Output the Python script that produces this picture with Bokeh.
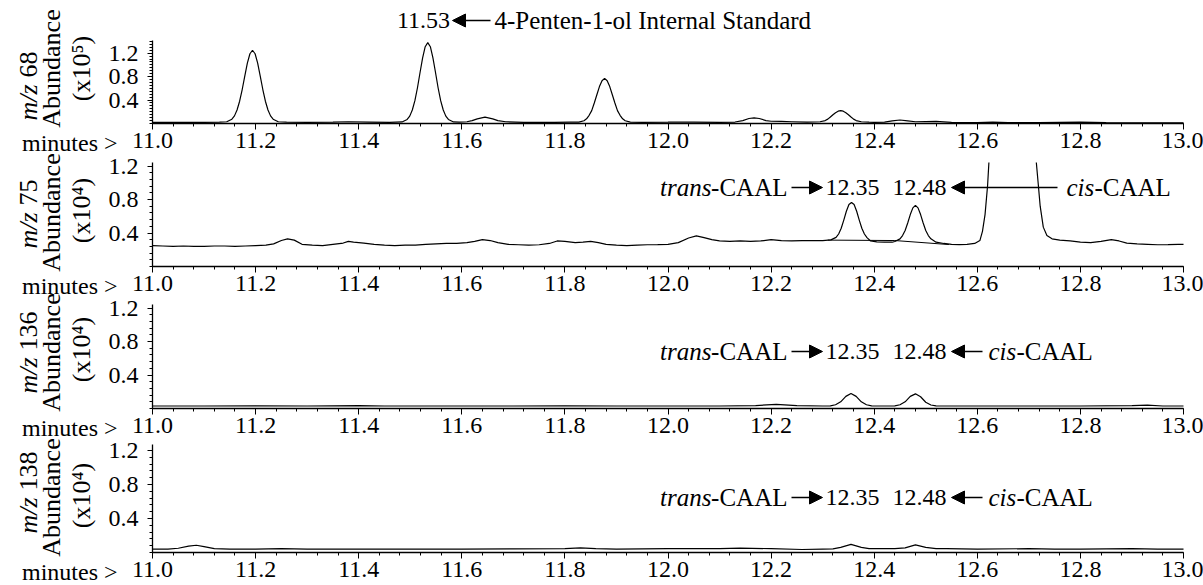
import math
from bokeh.plotting import figure
from bokeh.models import (Range1d, FixedTicker, NumeralTickFormatter, Label, Arrow, NormalHead,
                          LinearAxis)
from bokeh.embed import file_html
from bokeh.resources import INLINE

# ---------------- data ----------------
x_ticks = [11.0, 11.2, 11.4, 11.6, 11.8, 12.0, 12.2, 12.4, 12.6, 12.8, 13.0]
y_ticks = [0.4, 0.8, 1.2]
NAN = float("nan")

# m/z 68, abundance x10^5
mz68_time = [11.00, 11.05, 11.10, 11.13, 11.144, 11.154, 11.159, 11.164, 11.169, 11.174, 11.179, 11.184,
             11.189, 11.194, 11.199, 11.204, 11.209, 11.214, 11.219, 11.224, 11.229, 11.234, 11.244,
             11.26, 11.30, 11.35, 11.38, 11.42, 11.46, 11.484, 11.494, 11.499, 11.504, 11.509, 11.514,
             11.519, 11.524, 11.529, 11.534, 11.539, 11.544, 11.549, 11.554, 11.559, 11.564, 11.569,
             11.574, 11.584, 11.595, 11.61, 11.62, 11.63, 11.645, 11.66, 11.67, 11.685, 11.72, 11.78,
             11.81, 11.827, 11.837, 11.842, 11.847, 11.852, 11.857, 11.862, 11.867, 11.872, 11.877,
             11.882, 11.887, 11.892, 11.897, 11.902, 11.907, 11.912, 11.917, 11.927, 11.95, 12.00,
             12.05, 12.10, 12.13, 12.145, 12.157, 12.167, 12.177, 12.19, 12.20, 12.22, 12.24, 12.27,
             12.295, 12.305, 12.31, 12.315, 12.32, 12.325, 12.33, 12.335, 12.34, 12.345, 12.35, 12.355,
             12.36, 12.365, 12.375, 12.39, 12.40, 12.42, 12.435, 12.45, 12.465, 12.48, 12.52, 12.55,
             12.60, 12.63, 12.66, 12.72, 12.80, 12.85, 12.90, 13.00]
mz68_abund = [0.020, 0.020, 0.020, 0.022, 0.030, 0.074, 0.13, 0.23, 0.38, 0.58, 0.81, 1.03,
              1.19, 1.25, 1.19, 1.03, 0.81, 0.58, 0.38, 0.23, 0.13, 0.074, 0.030,
              0.022, 0.020, 0.025, 0.030, 0.025, 0.020, 0.027, 0.069, 0.126, 0.23, 0.39, 0.61,
              0.87, 1.12, 1.31, 1.38, 1.31, 1.12, 0.87, 0.61, 0.39, 0.23, 0.126,
              0.069, 0.027, 0.025, 0.030, 0.050, 0.080, 0.110, 0.080, 0.050, 0.030, 0.020, 0.020,
              0.022, 0.024, 0.047, 0.080, 0.14, 0.22, 0.35, 0.49, 0.63, 0.73, 0.77,
              0.73, 0.63, 0.49, 0.35, 0.22, 0.14, 0.080, 0.047, 0.024, 0.020, 0.022,
              0.025, 0.020, 0.025, 0.050, 0.085, 0.095, 0.085, 0.050, 0.038, 0.035, 0.030, 0.022,
              0.030, 0.050, 0.075, 0.11, 0.15, 0.185, 0.21, 0.22, 0.21, 0.185, 0.15, 0.11,
              0.075, 0.050, 0.030, 0.022, 0.020, 0.025, 0.045, 0.060, 0.045, 0.030, 0.035, 0.020,
              0.015, 0.025, 0.015, 0.015, 0.022, 0.015, 0.012, 0.012]

# m/z 75, abundance x10^4 (the cis-CAAL peak leaves the top of the panel: gap = off scale)
mz75_time = [11.00, 11.02, 11.04, 11.06, 11.08, 11.10, 11.12, 11.14, 11.16, 11.18, 11.20, 11.22, 11.235,
             11.25, 11.262, 11.275, 11.29, 11.31, 11.33, 11.35, 11.37, 11.38, 11.39, 11.41, 11.43, 11.45,
             11.47, 11.49, 11.51, 11.53, 11.55, 11.57, 11.59, 11.61, 11.625, 11.64, 11.655, 11.67, 11.69,
             11.71, 11.73, 11.75, 11.77, 11.785, 11.80, 11.82, 11.835, 11.85, 11.865, 11.88, 11.90, 11.92,
             11.94, 11.96, 11.98, 12.00, 12.02, 12.04, 12.055, 12.07, 12.085, 12.10, 12.12, 12.14, 12.16,
             12.18, 12.20, 12.22, 12.24, 12.26, 12.28, 12.30, 12.316, 12.326, 12.331, 12.336, 12.341,
             12.346, 12.351, 12.356, 12.361, 12.366, 12.371, 12.376, 12.381, 12.386, 12.393, 12.405,
             12.42, 12.435, 12.44, 12.45, 12.455, 12.46, 12.465, 12.47, 12.475, 12.48, 12.485, 12.49,
             12.495, 12.50, 12.505, 12.51, 12.52, 12.535, 12.55, 12.565, 12.58, 12.595, 12.605, 12.61,
             12.615, 12.62, 12.6225, 12.67, 12.7145, 12.718, 12.722, 12.728, 12.735, 12.745, 12.76, 12.78,
             12.80, 12.82, 12.84, 12.86, 12.875, 12.89, 12.91, 12.93, 12.95, 12.97, 12.99, 13.00]
mz75_abund = [0.250, 0.245, 0.240, 0.245, 0.240, 0.240, 0.245, 0.245, 0.240, 0.245, 0.250, 0.255, 0.270,
              0.310, 0.330, 0.315, 0.265, 0.255, 0.250, 0.265, 0.280, 0.300, 0.290, 0.280, 0.265, 0.255,
              0.250, 0.255, 0.255, 0.265, 0.270, 0.275, 0.275, 0.285, 0.300, 0.320, 0.310, 0.285, 0.265,
              0.260, 0.255, 0.260, 0.275, 0.305, 0.300, 0.285, 0.290, 0.300, 0.285, 0.265, 0.255, 0.250,
              0.255, 0.260, 0.262, 0.265, 0.285, 0.340, 0.365, 0.345, 0.320, 0.305, 0.300, 0.305, 0.300,
              0.305, 0.320, 0.310, 0.305, 0.310, 0.310, 0.310, 0.318, 0.348, 0.388, 0.457, 0.554,
              0.660, 0.740, 0.765, 0.740, 0.660, 0.554, 0.457, 0.388, 0.345, 0.305, 0.295,
              0.290, 0.290, 0.298, 0.330, 0.370, 0.430, 0.520, 0.620, 0.700, 0.730, 0.700, 0.620,
              0.520, 0.430, 0.370, 0.330, 0.290, 0.275, 0.265, 0.262, 0.265, 0.275, 0.310, 0.420,
              0.620, 0.970, 1.242, NAN, 1.242, 1.000, 0.720, 0.470, 0.370, 0.330, 0.315, 0.305,
              0.290, 0.285, 0.300, 0.320, 0.305, 0.280, 0.270, 0.265, 0.260, 0.262, 0.265, 0.265]
mz75_base_time = [12.31, 12.44, 12.545]
mz75_base_abund = [0.315, 0.310, 0.262]

# m/z 136, abundance x10^4
mz136_time = [11.00, 11.10, 11.20, 11.30, 11.40, 11.45, 11.60, 11.70, 11.80, 11.90, 12.00, 12.10, 12.17,
              12.21, 12.25, 12.30, 12.315, 12.325, 12.335, 12.345, 12.355, 12.365, 12.375, 12.385, 12.395,
              12.42, 12.44, 12.45, 12.46, 12.47, 12.48, 12.49, 12.50, 12.51, 12.52, 12.54, 12.60, 12.70,
              12.80, 12.90, 12.93, 12.96, 13.00]
mz136_abund = [0.030, 0.030, 0.032, 0.030, 0.035, 0.030, 0.030, 0.030, 0.032, 0.030, 0.030, 0.030, 0.035,
               0.050, 0.035, 0.030, 0.032, 0.045, 0.080, 0.145, 0.180, 0.145, 0.080, 0.045, 0.032,
               0.030, 0.032, 0.045, 0.080, 0.145, 0.175, 0.140, 0.075, 0.042, 0.032, 0.030, 0.030, 0.030,
               0.030, 0.035, 0.040, 0.030, 0.030]

# m/z 138, abundance x10^4
mz138_time = [11.00, 11.03, 11.05, 11.07, 11.085, 11.10, 11.12, 11.15, 11.20, 11.25, 11.30, 11.40, 11.50,
              11.60, 11.70, 11.80, 11.83, 11.86, 11.90, 12.00, 12.10, 12.14, 12.20, 12.26, 12.30, 12.32,
              12.335, 12.355, 12.375, 12.39, 12.41, 12.44, 12.46, 12.48, 12.50, 12.52, 12.54, 12.60, 12.70,
              12.75, 12.80, 12.90, 12.95, 13.00]
mz138_abund = [0.040, 0.040, 0.050, 0.075, 0.085, 0.070, 0.045, 0.040, 0.040, 0.045, 0.040, 0.040, 0.040,
               0.040, 0.042, 0.045, 0.055, 0.045, 0.040, 0.045, 0.045, 0.052, 0.045, 0.035, 0.040, 0.042,
               0.060, 0.095, 0.060, 0.045, 0.045, 0.045, 0.055, 0.090, 0.060, 0.045, 0.045, 0.040, 0.045,
               0.040, 0.040, 0.045, 0.040, 0.040]

ion_labels = ["68", "75", "136", "138"]
exponents = ["\u2075", "\u2074", "\u2074", "\u2074"]

# ---------------- layout (page pixels) ----------------
FONT = "Liberation Serif"
FS_TICK = "24px"
FS_NUM = "24px"
FS_WORD = "25px"
FS_TITLE = "26px"
W, H = 1203, 585
FRAME_L, FRAME_R = 152, 1183
PPM = (FRAME_R - FRAME_L) / 2.0          # pixels per minute

# zero: page y of abundance 0, ppu: pixels per abundance unit, top: end of the y axis
panels = [
    dict(zero=123, ppu=58.6, top=1.416, minor=0.05, time=mz68_time, abund=mz68_abund,
         S=84, ab_c=68, ex_c=68),
    dict(zero=266, ppu=83.75, top=1.242, minor=0.08, time=mz75_time, abund=mz75_abund,
         S=212, ab_c=212, ex_c=210),
    dict(zero=408, ppu=83.75, top=1.242, minor=0.08, time=mz136_time, abund=mz136_abund,
         S=357, ab_c=352, ex_c=349),
    dict(zero=552, ppu=85.0, top=1.27, minor=0.08, time=mz138_time, abund=mz138_abund,
         S=497, ab_c=497, ex_c=495),
]


def dx(page_x):
    return 11.0 + (page_x - FRAME_L) / PPM


p = figure(width=W, height=H, output_backend="svg", toolbar_location=None,
           x_range=Range1d(dx(0), dx(W)), y_range=Range1d(H, 0),
           x_axis_location=None, y_axis_location=None, min_border=0)
p.outline_line_color = None
p.background_fill_color = "white"
p.border_fill_color = "white"
for g in p.grid:
    g.visible = False


def lab(x, y, text, align="center", style="normal", angle=0.0, x_offset=0, size=FS_WORD):
    p.add_layout(Label(x=x, y=y, text=text, text_font=FONT, text_font_size=size,
                       text_font_style=style, text_color="black", text_align=align,
                       text_baseline="middle", angle=angle, x_offset=x_offset))


def arrow(x0, x1, y):
    p.add_layout(Arrow(x_start=x0, y_start=y, x_end=x1, y_end=y, line_color="black", line_width=1.3,
                       end=NormalHead(size=13, fill_color="black", line_color="black", line_width=1)))


def style_axis(ax, tick_out, minor_out, standoff):
    ax.major_label_text_font = FONT
    ax.major_label_text_font_size = FS_TICK
    ax.major_label_text_color = "black"
    ax.major_tick_out, ax.major_tick_in = tick_out, 0
    ax.minor_tick_out, ax.minor_tick_in = minor_out, 0
    ax.major_label_standoff = standoff
    ax.axis_line_width = 1.3
    ax.axis_line_color = "black"
    ax.major_tick_line_color = "black"
    ax.minor_tick_line_color = "black"
    ax.formatter = NumeralTickFormatter(format="0.0")


x_minor = [round(11.0 + 0.04 * i, 2) for i in range(51)]
rot = math.pi / 2
for i, cfg in enumerate(panels):
    name = "ion%d" % i
    z, u = cfg["zero"], cfg["ppu"]
    p.extra_y_ranges[name] = Range1d((z - H) / u, z / u)

    # x axis drawn at the panel's zero line
    xa = LinearAxis(fixed_location=z, bounds=(11.0, 13.0),
                    ticker=FixedTicker(ticks=x_ticks, minor_ticks=x_minor))
    style_axis(xa, 6, 3, 3)
    p.add_layout(xa, "below")

    # y axis drawn at 11.0 minutes
    n_minor = int(cfg["top"] / cfg["minor"] + 1e-6) + 1
    ya = LinearAxis(y_range_name=name, fixed_location=11.0, bounds=(0, cfg["top"]),
                    ticker=FixedTicker(ticks=y_ticks,
                                       minor_ticks=[round(cfg["minor"] * k, 3) for k in range(n_minor)]))
    style_axis(ya, 5, 3, 9)
    p.add_layout(ya, "left")

    p.line(cfg["time"], cfg["abund"], y_range_name=name, line_color="black", line_width=1.2)

    # rotated y title: "m/z NN", "Abundance", "(x10^n)"
    p.add_layout(Label(x=dx(28), y=cfg["S"], text="m/z", text_font=FONT, text_font_size=FS_TITLE,
                       text_font_style="italic", text_color="black", text_align="right",
                       text_baseline="middle", angle=rot))
    p.add_layout(Label(x=dx(28), y=cfg["S"] - 7, text=ion_labels[i], text_font=FONT,
                       text_font_size=FS_TITLE, text_color="black", text_align="left",
                       text_baseline="middle", angle=rot))
    lab(dx(51), cfg["ab_c"], "Abundance", angle=rot, size=FS_TITLE)
    lab(dx(81), cfg["ex_c"], "(x10" + exponents[i] + ")", angle=rot, size=FS_TITLE)

    # "minutes >" in front of the first tick label
    lab(dx(117), z + 19, "minutes >", align="right", size=FS_TICK)

p.line(mz75_base_time, mz75_base_abund, y_range_name="ion1", line_color="black", line_width=1.0)

# ---------------- peak annotations ----------------
lab(dx(423), 20, "11.53", size=FS_NUM)
arrow(dx(490), dx(452), 20)
lab(dx(494), 20, "4-Penten-1-ol Internal Standard", align="left")

for page_y, cis_tail, cis_text in [(187, 1057, 1066), (351, 982, 988), (497, 982, 988)]:
    lab(dx(787), page_y, "-CAAL", align="right")
    lab(dx(787), page_y, "trans", align="right", style="italic", x_offset=-76)
    arrow(dx(791), dx(822), page_y)
    lab(dx(852), page_y, "12.35", size=FS_NUM)
    lab(dx(919), page_y, "12.48", size=FS_NUM)
    arrow(dx(cis_tail), dx(951), page_y)
    lab(dx(cis_text), page_y, "cis", align="left", style="italic")
    lab(dx(cis_text), page_y, "-CAAL", align="left", x_offset=28)

open("out.html", "w").write(file_html(p, INLINE))
